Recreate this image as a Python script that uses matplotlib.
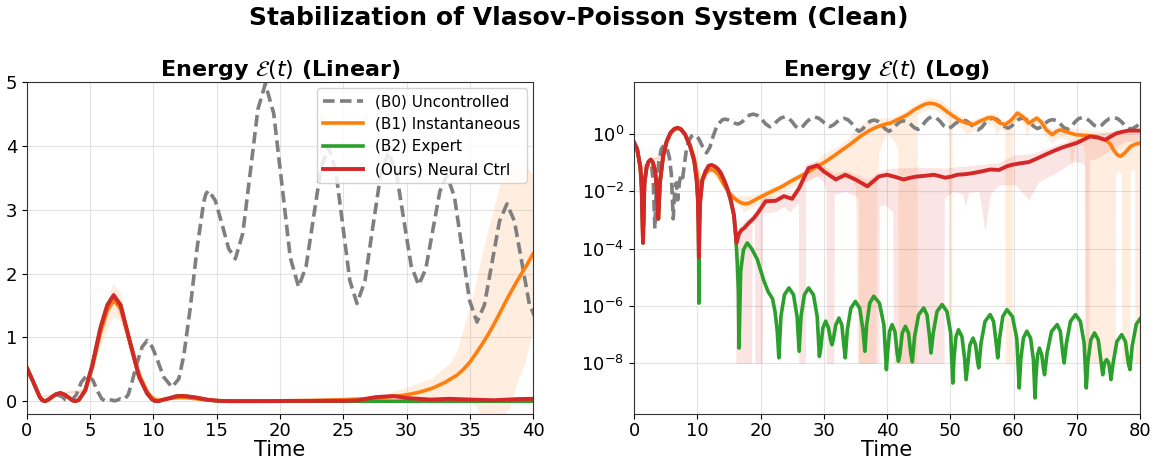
import numpy as np
import matplotlib
matplotlib.use("Agg")
import matplotlib.pyplot as plt
from matplotlib.ticker import NullLocator

# (B0) Uncontrolled
b0_t = [0, 0.5, 1.0, 1.25, 1.45, 1.65, 2.0, 2.4, 2.8, 3.05,
        3.3, 3.55, 3.9, 4.3, 4.76, 5.2, 5.6, 5.9, 6.2, 6.45,
        6.7, 6.9, 7.15, 7.4, 7.7, 8.0, 8.3, 8.7, 9.1, 9.5,
        9.9, 10.3, 10.8, 11.46, 12.0, 12.4, 12.9, 13.44, 13.97, 14.15,
        14.36, 14.89, 15.42, 15.94, 16.47, 17.06, 17.66, 18.25, 18.84, 19.5,
        20.16, 20.81, 21.47, 22.06, 22.66, 23.25, 23.84, 24.4, 24.96, 25.52,
        26.08, 26.71, 27.33, 27.96, 28.58, 29.18, 29.77, 30.37, 30.96, 31.52,
        32.08, 32.64, 33.2, 33.79, 34.39, 34.98, 35.57, 36.16, 36.76, 37.35,
        37.94, 38.53, 39.12, 39.71, 40.3, 40.88, 41.45, 42.03, 42.6, 43.18,
        43.75, 44.33, 44.9, 45.48, 46.05, 46.63, 47.2, 47.8, 48.4, 49.0,
        49.6, 50.2, 50.8, 51.4, 52.0, 52.6, 53.2, 53.8, 54.4, 54.98,
        55.55, 56.13, 56.7, 57.3, 57.9, 58.5, 59.1, 59.68, 60.25, 60.83,
        61.4, 62.0, 62.6, 63.2, 63.8, 64.4, 65.0, 65.6, 66.2, 66.78,
        67.35, 67.93, 68.5, 69.1, 69.7, 70.3, 70.9, 71.5, 72.1, 72.7,
        73.3, 73.93, 74.55, 75.18, 75.8, 76.45, 77.1, 77.75, 78.4, 78.9,
        79.4, 80.0]
b0 = [0.52, 0.30, 0.07, 0.02, 0.00016, 0.02, 0.07, 0.10, 0.07, 0.02,
      0.0005, 0.02, 0.1, 0.3, 0.41, 0.33, 0.15, 0.04, 0.0011, 0.012,
      0.02, 0.005, 0.018, 0.04, 0.03, 0.1, 0.3, 0.6, 0.85, 0.95,
      0.85, 0.65, 0.38, 0.22, 0.35, 0.72, 1.45, 2.39, 3.12, 3.25,
      3.30, 3.14, 2.77, 2.39, 2.23, 2.63, 3.60, 4.57, 4.97, 4.51,
      3.38, 2.25, 1.79, 2.11, 2.89, 3.66, 3.98, 3.62, 2.76, 1.89,
      1.53, 1.88, 2.72, 3.55, 3.90, 3.60, 2.86, 2.12, 1.82, 2.07,
      2.68, 3.29, 3.54, 3.20, 2.39, 1.58, 1.24, 1.51, 2.17, 2.82,
      3.09, 2.82, 2.17, 1.52, 1.25, 1.49, 2.08, 2.66, 2.9, 2.69,
      2.18, 1.66, 1.45, 1.82, 2.73, 3.63, 4.0, 3.64, 2.78, 1.91,
      1.55, 1.78, 2.33, 2.87, 3.1, 2.85, 2.25, 1.65, 1.4, 1.72,
      2.5, 3.28, 3.6, 3.31, 2.6, 1.89, 1.6, 1.89, 2.6, 3.31,
      3.6, 3.30, 2.58, 1.85, 1.55, 1.79, 2.38, 2.96, 3.2, 2.94,
      2.33, 1.71, 1.45, 1.79, 2.63, 3.46, 3.8, 3.50, 2.78, 2.05,
      1.75, 2.05, 2.78, 3.50, 3.8, 3.46, 2.65, 1.84, 1.5, 1.6,
      1.85, 2.4]

# (B1) Instantaneous
b1_t = [0, 0.5, 1.0, 1.2, 1.42, 1.65, 2.0, 2.3, 2.65, 3.0,
        3.35, 3.6, 3.84, 4.1, 4.6, 5.16, 5.8, 6.35, 6.85, 7.4,
        8.07, 8.86, 9.5, 9.9, 10.3, 10.8, 11.4, 12.0, 12.6, 13.3,
        14.2, 15.0, 15.8, 16.5, 17.1, 17.6, 18.2, 19.7, 21.5, 23.4,
        25.0, 26.5, 28.0, 29.0, 30.0, 31.0, 32.0, 33.0, 34.0, 34.5,
        35.0, 35.5, 36.0, 36.5, 37.0, 37.5, 38.0, 38.5, 39.0, 39.5,
        40.0, 40.5, 41.8, 43.2, 44.3, 45.3, 46.0, 46.8, 47.6, 48.4,
        49.5, 50.5, 51.5, 52.6, 53.7, 54.5, 55.3, 56.0, 56.6, 57.3,
        57.9, 58.7, 59.6, 60.6, 61.5, 62.4, 63.0, 63.7, 64.4, 65.2,
        66.1, 66.8, 67.4, 68.6, 69.8, 71.3, 72.9, 74.5, 75.3, 75.8,
        76.4, 76.9, 77.6, 78.5, 79.2, 80.0]
b1 = [0.52, 0.30, 0.07, 0.015, 0.00016, 0.02, 0.07, 0.11, 0.125, 0.1,
      0.05, 0.012, 0.0011, 0.02, 0.16, 0.52, 1.07, 1.42, 1.58, 1.45,
      0.98, 0.42, 0.15, 0.05, 0.012, 0.025, 0.045, 0.058, 0.055, 0.04,
      0.017, 0.009, 0.0059, 0.0045, 0.0039, 0.0037, 0.0039, 0.0059, 0.0093, 0.0148,
      0.024, 0.036, 0.055, 0.075, 0.1, 0.14, 0.2, 0.29, 0.41, 0.5,
      0.61, 0.75, 0.9, 1.06, 1.24, 1.43, 1.62, 1.8, 1.97, 2.13,
      2.31, 2.4, 3.3, 4.7, 7.0, 9.3, 11.0, 12.0, 11.2, 9.3,
      6.0, 4.2, 3.0, 2.4, 2.15, 2.7, 3.2, 3.7, 3.8, 3.0,
      2.4, 2.15, 3.0, 5.4, 4.0, 2.4, 2.9, 3.6, 2.6, 1.4,
      0.95, 1.25, 1.4, 1.15, 0.95, 0.9, 0.83, 0.63, 0.45, 0.28,
      0.19, 0.166, 0.22, 0.37, 0.44, 0.49]

# (B2) Expert, log10 of the energy
b2_t = [0, 0.5, 1.0, 1.2, 1.42, 1.65, 2.0, 2.3, 2.65, 3.0,
        3.35, 3.6, 3.84, 4.1, 4.6, 5.16, 5.8, 6.35, 6.85, 7.4,
        8.07, 8.86, 9.5, 9.9, 10.1, 10.2, 10.26, 10.32, 10.45, 10.8,
        11.3, 11.8, 12.25, 12.7, 13.2, 13.7, 14.2, 14.8, 15.3, 15.8,
        16.1, 16.35, 16.5, 16.6, 16.86, 17.3, 17.9, 18.6, 19.5, 20.5,
        21.2, 21.9, 22.3, 22.65, 22.9, 23.22, 23.78, 24.5, 25.22, 25.78,
        26.1, 26.4, 26.93, 27.6, 28.37, 28.96, 29.3, 29.5, 29.85, 30.3,
        30.75, 31.1, 31.3, 31.52, 31.9, 32.4, 32.85, 33.2, 33.4, 33.72,
        34.28, 35.0, 35.68, 36.2, 36.5, 36.78, 37.27, 37.9, 38.8, 39.5,
        39.9, 40.08, 40.4, 40.8, 41.25, 41.6, 41.8, 42.02, 42.4, 42.9,
        43.4, 43.78, 44.0, 44.36, 44.99, 45.8, 46.32, 46.72, 46.95, 47.3,
        47.91, 48.7, 49.47, 50.06, 50.4, 50.58, 50.9, 51.3, 51.84, 52.26,
        52.5, 52.72, 53.1, 53.6, 54.0, 54.32, 54.5, 54.86, 55.49, 56.3,
        56.84, 57.26, 57.5, 57.79, 58.3, 58.95, 59.83, 60.51, 60.9, 61.14,
        61.56, 62.1, 62.69, 63.14, 63.4, 63.54, 63.79, 64.1, 64.46, 64.74,
        64.9, 65.3, 66.0, 66.9, 67.4, 67.78, 68.0, 68.36, 68.99, 69.8,
        70.57, 71.16, 71.5, 71.76, 72.22, 72.8, 73.39, 73.84, 74.1, 74.22,
        74.43, 74.7, 75.02, 75.26, 75.4, 75.74, 76.33, 77.1, 77.69, 78.14,
        78.4, 78.76, 79.4, 79.9, 80.0]
b2_log = [-0.284, -0.52, -1.15, -1.82, -3.8, -1.7, -1.15, -0.96, -0.89, -1.0,
          -1.3, -1.92, -2.96, -1.7, -0.77, -0.25, 0.06, 0.18, 0.22, 0.18,
          -0.01, -0.42, -0.92, -1.6, -2.3, -3.2, -5.9, -3.2, -2.4, -1.6,
          -1.3, -1.11, -1.08, -1.12, -1.2, -1.35, -1.59, -1.95, -2.35, -2.85,
          -3.6, -4.6, -5.5, -7.47, -4.8, -4.04, -3.8, -4.0, -4.38, -5.1,
          -5.5, -5.75, -6.2, -6.9, -7.81, -6.37, -5.61, -5.37, -5.61, -6.37,
          -7.58, -6.37, -5.61, -5.37, -5.61, -6.37, -7.76, -7.53, -6.77, -6.53,
          -6.77, -7.2, -7.35, -7.15, -6.66, -6.42, -6.66, -7.42, -7.81, -6.84,
          -6.08, -5.84, -6.08, -6.84, -7.58, -6.66, -5.9, -5.66, -5.9, -6.66,
          -8.22, -7.65, -6.89, -6.65, -6.89, -7.65, -7.93, -7.71, -6.95, -6.71,
          -6.95, -7.71, -7.95, -7.07, -6.31, -6.07, -6.31, -7.07, -7.64, -6.95,
          -6.19, -5.95, -6.19, -6.95, -8.69, -7.83, -7.07, -6.83, -7.07, -7.83,
          -8.57, -8.12, -7.36, -7.12, -7.36, -7.95, -8.16, -7.3, -6.54, -6.30,
          -6.54, -7.3, -7.81, -7.13, -6.37, -6.13, -6.37, -7.13, -8.86, -7.88,
          -7.12, -6.88, -7.12, -7.88, -9.21, -8.47, -7.71, -7.47, -7.71, -8.2,
          -8.4, -7.65, -6.89, -6.65, -6.89, -7.65, -7.99, -7.3, -6.54, -6.30,
          -6.54, -7.3, -8.86, -7.94, -7.18, -6.94, -7.18, -7.94, -8.4, -8.2,
          -7.97, -7.87, -7.97, -8.3, -8.57, -8.0, -7.24, -7.0, -7.24, -8.0,
          -8.22, -7.4, -6.64, -6.48, -6.45]

# (Ours) Neural Ctrl
ours_t = [0, 0.5, 1.0, 1.2, 1.42, 1.65, 2.0, 2.3, 2.65, 3.0,
          3.35, 3.6, 3.84, 4.1, 4.6, 5.16, 5.8, 6.35, 6.85, 7.4,
          8.07, 8.86, 9.5, 9.9, 10.1, 10.26, 10.45, 10.8, 11.3, 11.8,
          12.25, 12.7, 13.2, 13.7, 14.2, 14.8, 15.3, 15.8, 16.2, 16.6,
          17.0, 17.4, 18.17, 19.0, 19.75, 20.8, 22.4, 23.7, 25.0, 26.1,
          27.6, 28.96, 30.0, 31.9, 33.4, 35.0, 36.9, 38.7, 40.0, 41.3,
          42.6, 43.7, 44.7, 46.0, 47.4, 48.3, 49.2, 50.2, 51.1, 52.5,
          53.7, 55.0, 56.3, 57.7, 59.0, 59.8, 61.0, 62.4, 63.7, 65.0,
          66.4, 67.7, 69.0, 70.0, 71.0, 72.1, 73.3, 74.5, 75.4, 76.3,
          77.2, 78.2, 79.0, 80.0]
ours = [0.52, 0.30, 0.07, 0.015, 0.00016, 0.02, 0.07, 0.11, 0.13, 0.1,
        0.05, 0.012, 0.0011, 0.02, 0.17, 0.56, 1.14, 1.50, 1.66, 1.50,
        0.98, 0.38, 0.12, 0.025, 0.005, 5e-5, 0.004, 0.025, 0.05, 0.078,
        0.083, 0.075, 0.063, 0.045, 0.026, 0.012, 0.005, 0.0015, 0.00016, 0.00033,
        0.00045, 0.00052, 0.0008, 0.0012, 0.002, 0.0045, 0.0047, 0.0068, 0.0055, 0.013,
        0.065, 0.081, 0.05, 0.026, 0.038, 0.026, 0.015, 0.033, 0.038, 0.032,
        0.026, 0.030, 0.033, 0.035, 0.038, 0.034, 0.030, 0.033, 0.038, 0.040,
        0.044, 0.050, 0.058, 0.056, 0.076, 0.085, 0.095, 0.105, 0.14, 0.19,
        0.26, 0.34, 0.42, 0.49, 0.63, 0.83, 0.76, 0.63, 0.83, 1.07,
        1.2, 1.32, 1.32, 1.32]

# shaded spread, (B1)
b1_band_t = [0, 1.0, 2.65, 4.6, 5.8, 6.85, 7.4, 8.07, 8.86, 9.5,
             10.3, 12.0, 14.2, 16.0, 17.5, 19.7, 23.4, 28.0, 30.0, 32.1,
             33.5, 34.0, 35.0, 35.3, 36.1, 37.4, 38.2, 38.4, 38.7, 39.4,
             40.0, 41.0, 41.7, 41.8, 42.6, 44.7, 44.8, 45.3, 46.8, 48.4,
             49.3, 49.65, 49.7, 50.2, 50.3, 50.5, 51.5, 52.6, 53.7, 55.3,
             56.6, 57.3, 57.9, 58.6, 58.7, 59.8, 59.9, 60.6, 61.5, 62.2,
             62.4, 63.7, 64.4, 65.2, 66.1, 67.4, 68.6, 69.2, 69.8, 71.0,
             71.25, 71.3, 72.9, 74.5, 76.05, 76.15, 76.6, 77.05, 77.1, 78.4,
             78.45, 78.8, 79.15, 79.2, 80.0]
b1_lo = [0.50, 0.06, 0.11, 0.13, 0.85, 1.32, 1.25, 0.80, 0.33, 0.11,
         0.009, 0.05, 0.014, 0.004, 0.002, 0.0038, 0.009, 0.03, 0.04, 0.03,
         0.025, 0.03, 0.015, -0.02, -0.27, -0.3, -0.1, 0.01, 0.25, 0.6,
         1.08, 0.6, 0.3, -0.5, -0.5, -0.5, 4.5, 5.5, 7.5, 6.0,
         3.5, 2.5, -0.5, -0.5, 2.6, 2.6, 1.8, 1.0, 1.4, 2.0,
         2.5, 0.9, 1.6, 1.2, -0.5, -0.5, 2.0, 3.5, 2.5, 0.8,
         1.5, 2.3, 1.6, 0.8, 0.5, 0.8, 0.6, 0.06, 0.5, 0.4,
         0.2, -0.5, -0.5, -0.5, -0.5, 0.04, 0.05, 0.04, -0.5, -0.5,
         0.05, 0.06, 0.05, -0.5, -0.5]
b1_hi = [0.54, 0.08, 0.14, 0.20, 1.30, 1.84, 1.70, 1.15, 0.50, 0.19,
         0.016, 0.066, 0.02, 0.0072, 0.0068, 0.0085, 0.02, 0.075, 0.21, 0.36,
         0.6, 0.77, 1.45, 1.65, 2.39, 3.38, 3.65, 3.7, 3.75, 3.7,
         3.54, 4.0, 4.8, 5.0, 6.0, 11.5, 12.0, 14.0, 20.0, 15.0,
         11.0, 9.0, 9.0, 7.0, 6.8, 6.5, 4.6, 3.4, 3.1, 4.6,
         5.6, 4.6, 3.6, 3.1, 3.1, 4.3, 4.5, 7.5, 5.6, 3.6,
         3.4, 5.0, 3.7, 2.2, 1.5, 2.2, 1.8, 1.6, 1.5, 1.4,
         1.4, 1.4, 1.3, 1.3, 1.2, 1.2, 1.15, 1.15, 1.15, 1.25,
         1.25, 1.25, 1.28, 1.28, 1.3]

# shaded spread, (Ours)
ours_band_t = [0, 1.0, 2.65, 4.6, 5.8, 6.85, 8.07, 9.5, 10.8, 12.25,
               14.2, 15.8, 16.0, 16.1, 17.4, 18.6, 18.65, 19.05, 19.1, 20.3,
               20.35, 22.4, 23.7, 24.7, 25.0, 26.0, 26.05, 27.1, 27.15, 28.96,
               30.0, 30.35, 30.4, 31.6, 31.65, 33.4, 35.0, 35.45, 35.5, 36.9,
               38.7, 38.75, 39.7, 40.9, 41.0, 45.0, 49.0, 49.05, 50.5, 52.0,
               52.4, 52.9, 54.5, 55.5, 56.3, 57.7, 60.3, 62.4, 64.0, 67.1,
               69.5, 70.8, 71.25, 71.3, 71.9, 71.95, 73.0, 75.0, 77.7, 80.0]
ours_lo = [0.50, 0.06, 0.12, 0.15, 1.05, 1.58, 0.90, 0.10, 0.02, 0.075,
           0.022, 0.0012, 3e-6, -0.001, -0.001, -0.001, 0.0007, 0.0008, -0.001, -0.001,
           0.0017, 0.002, 0.003, 0.0018, 0.0025, 0.004, -0.002, -0.002, 0.02, 0.035,
           0.02, 0.012, -0.005, -0.005, 0.008, 0.01, 0.007, 0.005, -0.005, -0.005,
           -0.005, 0.003, 0.0034, 0.002, -0.005, -0.005, -0.005, 0.006, 0.01, 0.008,
           0.003, 0.009, 0.01, 0.0004, 0.008, 0.017, 0.017, 0.005, 0.022, 0.05,
           0.11, 0.1, 0.08, -0.01, -0.01, 0.12, 0.14, 0.25, 0.55, 0.55]
ours_hi = [0.54, 0.08, 0.14, 0.19, 1.22, 1.74, 1.06, 0.14, 0.03, 0.092,
           0.03, 0.0018, 0.0003, 0.0004, 0.0009, 0.0014, 0.0014, 0.0018, 0.0019, 0.0065,
           0.0065, 0.007, 0.0095, 0.009, 0.0085, 0.018, 0.019, 0.09, 0.09, 0.12,
           0.075, 0.07, 0.07, 0.045, 0.045, 0.055, 0.04, 0.038, 0.038, 0.025,
           0.05, 0.05, 0.06, 0.065, 0.065, 0.07, 0.065, 0.065, 0.07, 0.075,
           0.075, 0.078, 0.085, 0.09, 0.095, 0.1, 0.19, 0.2, 0.25, 0.45,
           0.65, 0.75, 0.8, 0.8, 0.95, 0.95, 1.0, 1.2, 1.6, 1.6]

b2 = 10.0 ** np.array(b2_log)

c_b0 = "#7f7f7f"
c_b1 = "#ff7f0e"
c_b2 = "#2ca02c"
c_ours = "#d62728"

fig = plt.figure(figsize=(11.58, 4.58), dpi=100)
ax1 = fig.add_axes([0.0233, 0.0961, 0.437, 0.725])
ax2 = fig.add_axes([0.5475, 0.0961, 0.437, 0.725])

for ax, log in [(ax1, False), (ax2, True)]:
    lo1 = np.array(b1_lo)
    lo2 = np.array(ours_lo)
    if log:
        # negative lower bounds cannot be shown on a log axis
        lo1 = np.maximum(lo1, 1e-8)
        lo2 = np.maximum(lo2, 1e-8)
    ax.fill_between(b1_band_t, lo1, b1_hi, color=c_b1, alpha=0.13, linewidth=0)
    ax.fill_between(ours_band_t, lo2, ours_hi, color=c_ours, alpha=0.12, linewidth=0)

    ax.plot(b0_t, b0, color=c_b0, lw=2.6, dashes=(3.2, 1.5), label="(B0) Uncontrolled")
    ax.plot(b1_t, b1, color=c_b1, lw=2.6, label="(B1) Instantaneous")
    ax.plot(b2_t, b2, color=c_b2, lw=2.6, label="(B2) Expert")
    ax.plot(ours_t, ours, color=c_ours, lw=2.8, label="(Ours) Neural Ctrl")

    ax.grid(True, color="#dddddd", lw=0.8, alpha=0.8)
    ax.set_axisbelow(True)
    ax.tick_params(labelsize=13)
    ax.tick_params(axis="x", pad=2)
    ax.set_xlabel("Time", fontsize=15, labelpad=0)
    for s in ax.spines.values():
        s.set_color("#333333")

ax1.set_xlim(0, 40)
ax1.set_ylim(-0.2, 5)
ax1.set_yticks([0, 1, 2, 3, 4, 5])
ax1.set_title(r"Energy $\mathcal{E}(t)$ (Linear)", fontsize=16, fontweight="bold", pad=4)
ax1.legend(loc="upper right", fontsize=11, framealpha=0.85, handlelength=2.6,
           borderaxespad=0.4)

ax2.set_yscale("log")
ax2.set_xlim(0, 80)
ax2.set_ylim(1.7e-10, 66)
ax2.set_yticks([1e-8, 1e-6, 1e-4, 1e-2, 1e0])
ax2.yaxis.set_minor_locator(NullLocator())
ax2.set_title(r"Energy $\mathcal{E}(t)$ (Log)", fontsize=16, fontweight="bold", pad=4)

fig.suptitle("Stabilization of Vlasov-Poisson System (Clean)", fontsize=18,
             fontweight="bold", y=0.96, va="center")

fig.savefig("out.png", dpi=100)
